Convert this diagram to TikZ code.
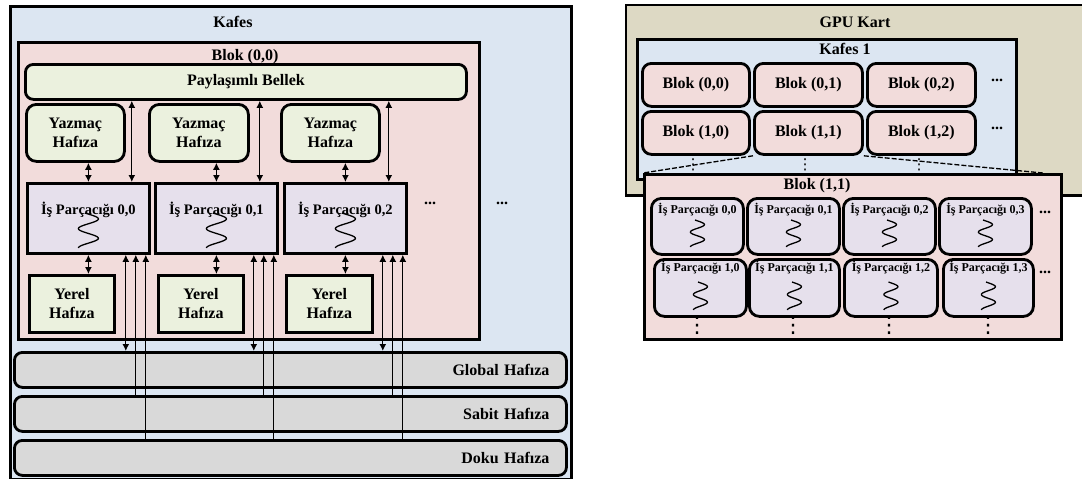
\documentclass[tikz,border=0pt]{standalone}
\usepackage{fontspec}
\setmainfont{Liberation Serif}
\newfontfamily\symfont{DejaVu Sans}
\usetikzlibrary{arrows.meta,calc}

\definecolor{gridblue}{HTML}{DCE6F2}
\definecolor{blockpink}{HTML}{F2DCDB}
\definecolor{memgreen}{HTML}{EBF1DE}
\definecolor{threadlav}{HTML}{E6E0EC}
\definecolor{memgrey}{HTML}{D9D9D9}
\definecolor{cardtan}{HTML}{DDD9C4}

% wavy thread symbol: anchor, offset below anchor, height, amplitude
\newcommand\wavy[4]{%
  \draw[line width=1.3pt, shift={(#1)}]
    plot[domain=-20:630, samples=70, smooth]
    ({#4*sin(\x)}, {#2+(\x+20)/650*#3});}

\begin{document}
\begin{tikzpicture}[x=1pt, y=-1pt,
  >={Latex[length=7pt,width=7pt]},
  box/.style={draw, line width=2.8pt, inner sep=0pt, anchor=north west},
  rbox/.style={box, rounded corners=9pt},
  lbl/.style={font=\bfseries\fontsize{16}{19}\selectfont, inner sep=0pt, align=center},
  thr/.style={font=\bfseries\fontsize{14.5}{17}\selectfont, inner sep=0pt},
  sthr/.style={font=\bfseries\fontsize{12}{14}\selectfont, inner sep=0pt},
  biarrow/.style={line width=1.3pt, <->},
  uparrow/.style={line width=1.3pt, ->},
  dashline/.style={line width=1.3pt, dash pattern=on 5pt off 2pt},
  vdot/.style={font=\symfont\fontsize{15}{15}\selectfont, inner sep=0pt},
  bigvdot/.style={font=\symfont\fontsize{22}{22}\selectfont, inner sep=0pt},
]
\useasboundingbox (0,0) rectangle (1082,479);

% ---------------- grid with one block in detail ----------------
\node[box, fill=gridblue, minimum width=561, minimum height=473] (kafes) at (9,5) {};
\node[lbl] (kafeslbl) at (233,22) {Kafes};
\node[box, fill=blockpink, minimum width=461, minimum height=297] (blok) at (17,41) {};
\node[lbl] (bloklbl) at (245,57) {Blok (0,0)};
\node[rbox, rounded corners=8pt, fill=memgreen, minimum width=441, minimum height=35, lbl] (pb) at (24,63) {Paylaşımlı Bellek};

\node[rbox, rounded corners=10pt, fill=memgreen, minimum width=98, minimum height=57, lbl] (y0) at (25,103) {Yazmaç\\Hafıza};
\node[rbox, rounded corners=10pt, fill=memgreen, minimum width=99, minimum height=57, lbl] (y1) at (148,103) {Yazmaç\\Hafıza};
\node[rbox, rounded corners=10pt, fill=memgreen, minimum width=98, minimum height=57, lbl] (y2) at (280,103) {Yazmaç\\Hafıza};

\node[box, fill=threadlav, minimum width=122, minimum height=70] (t0) at (26,182) {};
\node[box, fill=threadlav, minimum width=122, minimum height=70] (t1) at (154,182) {};
\node[box, fill=threadlav, minimum width=122, minimum height=70] (t2) at (283,182) {};
\node[thr] (t0l) at ($(t0.north)+(0,28)$) {İş Parçacığı 0,0};
\node[thr] (t1l) at ($(t1.north)+(0,28)$) {İş Parçacığı 0,1};
\node[thr] (t2l) at ($(t2.north)+(0,28)$) {İş Parçacığı 0,2};
\wavy{t0.north}{31}{35}{10}
\wavy{t1.north}{31}{35}{10}
\wavy{t2.north}{31}{35}{10}

\node[box, fill=memgreen, minimum width=85, minimum height=57, lbl] (l0) at (28,274) {Yerel\\Hafıza};
\node[box, fill=memgreen, minimum width=85, minimum height=57, lbl] (l1) at (157,274) {Yerel\\Hafıza};
\node[box, fill=memgreen, minimum width=86, minimum height=57, lbl] (l2) at (285,274) {Yerel\\Hafıza};

\node[lbl] (dots0) at (430,203) {...};
\node[lbl] (dots1) at (502,203) {...};

\node[rbox, rounded corners=8pt, fill=memgrey, minimum width=552, minimum height=35, text width=518, lbl, align=right] (glob) at (13,351) {Global Hafıza};
\node[rbox, rounded corners=8pt, fill=memgrey, minimum width=552, minimum height=35, text width=518, lbl, align=right] (sabit) at (13,395) {Sabit Hafıza};
\node[rbox, rounded corners=8pt, fill=memgrey, minimum width=552, minimum height=35, text width=518, lbl, align=right] (doku) at (13,439) {Doku Hafıza};

\foreach \i in {0,1,2} {
  \draw[biarrow] (y\i.south -| t\i.north) -- (t\i.north);
  \coordinate (p\i) at ($(t\i.north east)+(-19,0)$);
  \draw[biarrow] (pb.south -| p\i) -- (p\i);
  \draw[biarrow] (t\i.south) -- (l\i.north -| t\i.south);
  \coordinate (g\i) at ($(t\i.south east)+(-25,0)$);
  \coordinate (s\i) at ($(t\i.south east)+(-15,0)$);
  \coordinate (k\i) at ($(t\i.south east)+(-5,0)$);
  \draw[biarrow] (g\i) -- (glob.north -| g\i);
  \draw[uparrow] (sabit.north -| s\i) -- (s\i);
  \draw[uparrow] (doku.north -| k\i) -- (k\i);
}

% ---------------- GPU card with a grid of blocks ----------------
\node[box, draw=none, fill=cardtan, minimum width=456, minimum height=188] (gpu) at (626,5) {};
\draw[line width=2.8pt] (gpu.north east) -- (gpu.north west) -- (gpu.south west) -- (gpu.south east);
\node[lbl] (gpulbl) at (855,22) {GPU Kart};
\node[box, fill=gridblue, minimum width=379, minimum height=140] (kafes1) at (636,38) {};
\node[lbl] (kafes1lbl) at (845,49) {Kafes 1};

\node[rbox, fill=blockpink, minimum width=107, minimum height=43, lbl] (b00) at (641,62) {Blok (0,0)};
\node[rbox, fill=blockpink, minimum width=108, minimum height=43, lbl] (b01) at (753,62) {Blok (0,1)};
\node[rbox, fill=blockpink, minimum width=108, minimum height=43, lbl] (b02) at (866,62) {Blok (0,2)};
\node[rbox, fill=blockpink, minimum width=107, minimum height=43, lbl] (b10) at (641,110) {Blok (1,0)};
\node[rbox, fill=blockpink, minimum width=108, minimum height=43, lbl] (b11) at (753,110) {Blok (1,1)};
\node[rbox, fill=blockpink, minimum width=108, minimum height=43, lbl] (b12) at (866,110) {Blok (1,2)};
\node[lbl] (bdots0) at (997,80) {...};
\node[lbl] (bdots1) at (997,128) {...};
\node[vdot] (bv0) at (693,165) {⋮};
\node[vdot] (bv1) at (805,165) {⋮};
\node[vdot] (bv2) at (919,165) {⋮};

% ---------------- block (1,1) in detail ----------------
\node[box, fill=blockpink, minimum width=417, minimum height=165] (B11) at (643,173) {};
\draw[dashline] (b11.south west) -- (B11.north west);
\draw[dashline] (b11.south east) -- ($(B11.north east)+(-20,0)$);
\node[lbl] (B11lbl) at (817,186) {Blok (1,1)};

\node[rbox, rounded corners=10pt, fill=threadlav, minimum width=92, minimum height=56] (r00) at (650,197) {};
\node[rbox, rounded corners=10pt, fill=threadlav, minimum width=92, minimum height=56] (r01) at (746,197) {};
\node[rbox, rounded corners=10pt, fill=threadlav, minimum width=92, minimum height=56] (r02) at (842,197) {};
\node[rbox, rounded corners=10pt, fill=threadlav, minimum width=92, minimum height=56] (r03) at (938,197) {};
\node[rbox, rounded corners=10pt, fill=threadlav, minimum width=92, minimum height=57] (r10) at (653,258) {};
\node[rbox, rounded corners=10pt, fill=threadlav, minimum width=90, minimum height=57] (r11) at (748,258) {};
\node[rbox, rounded corners=10pt, fill=threadlav, minimum width=93, minimum height=57] (r12) at (843,258) {};
\node[rbox, rounded corners=10pt, fill=threadlav, minimum width=90, minimum height=57] (r13) at (942,258) {};

\node[sthr] (r00l) at ($(r00.north)+(0,13)$) {İş Parçacığı 0,0};
\node[sthr] (r01l) at ($(r01.north)+(0,13)$) {İş Parçacığı 0,1};
\node[sthr] (r02l) at ($(r02.north)+(0,13)$) {İş Parçacığı 0,2};
\node[sthr] (r03l) at ($(r03.north)+(0,13)$) {İş Parçacığı 0,3};
\node[sthr] (r10l) at ($(r10.north)+(0,10)$) {İş Parçacığı 1,0};
\node[sthr] (r11l) at ($(r11.north)+(0,10)$) {İş Parçacığı 1,1};
\node[sthr] (r12l) at ($(r12.north)+(0,10)$) {İş Parçacığı 1,2};
\node[sthr] (r13l) at ($(r13.north)+(0,10)$) {İş Parçacığı 1,3};
\foreach \j in {0,1,2,3} {
  \wavy{r0\j.north}{23}{27}{7}
  \wavy{r1\j.north}{24}{28}{7}
}
\node[lbl] (rdots0) at (1045,212) {...};
\node[lbl] (rdots1) at (1045,272) {...};
\node[bigvdot] (rv0) at (697,326) {⋮};
\node[bigvdot] (rv1) at (793,326) {⋮};
\node[bigvdot] (rv2) at (889,326) {⋮};
\node[bigvdot] (rv3) at (988,326) {⋮};
\end{tikzpicture}
\end{document}
